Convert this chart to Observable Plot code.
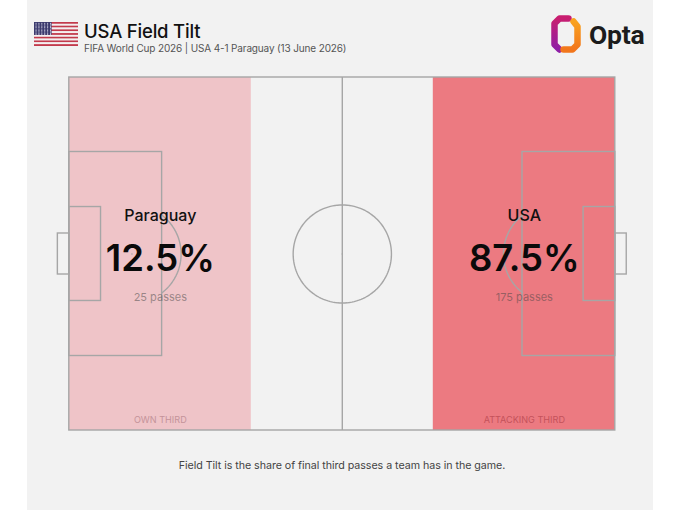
<!DOCTYPE html>
<html><head><meta charset="utf-8">
<script src="https://cdn.jsdelivr.net/npm/d3@7"></script>
<script src="https://cdn.jsdelivr.net/npm/@observablehq/plot@0.6"></script>
<style>
html,body{margin:0;padding:0;background:#fff;width:680px;height:510px;overflow:hidden}
#panel{position:absolute;left:27px;top:0;width:626px;height:510px;background:#f2f2f2}
.t{position:absolute;white-space:nowrap;font-family:Inter,Roboto,sans-serif}
#title{left:84px;top:20px;font-size:18.5px;font-weight:500;color:#111;line-height:22px;letter-spacing:-.2px}
#sub{left:84px;top:41px;font-size:10px;color:#555;line-height:14px;letter-spacing:-.14px}
#cap{left:27px;width:630px;text-align:center;top:459px;font-size:10.7px;color:#444;line-height:14px;letter-spacing:-.05px}
#opta{left:589px;top:19px;font-size:26.5px;font-weight:700;color:#1c1c1c;line-height:32px;font-family:Roboto,sans-serif;letter-spacing:-.2px}
svg{position:absolute;overflow:visible;background:transparent}
</style></head><body>
<div id="panel"></div>
<div id="root"></div>
<div class="t" id="title"></div><div class="t" id="sub"></div><div class="t" id="cap"></div><div class="t" id="opta"></div>
<script>
const chartTitle="USA Field Tilt";
const chartSubtitle="FIFA World Cup 2026 | USA 4-1 Paraguay (13 June 2026)";
const chartCaption="Field Tilt is the share of final third passes a team has in the game.";
const brand="Opta";
const teams=["Paraguay","USA"];
const shares=["12.5%","87.5%"];
const passes=["25 passes","175 passes"];
const zoneNames=["OWN THIRD","ATTACKING THIRD"];
const zoneStart=[0,70];
const zoneEnd=[35,105];
const zoneFill=["#efc4c8","#ec7a81"];
const zoneInk=["#c4939a","#c4525b"];
const L=105,W=68,mid=W/2;
const boxDepth=17.85,boxHalf=19.65,sixDepth=6.1,sixHalf=9.05,goalDepth=2.2,goalHalf=3.95,spot=12.05,radius=9.45;
const idx=[0,1];
const cx=i=>(zoneStart[i]+zoneEnd[i])/2;
const outlines=[
 {x1:0,x2:L,y1:0,y2:W},
 {x1:0,x2:boxDepth,y1:mid-boxHalf,y2:mid+boxHalf},
 {x1:L-boxDepth,x2:L,y1:mid-boxHalf,y2:mid+boxHalf},
 {x1:0,x2:sixDepth,y1:mid-sixHalf,y2:mid+sixHalf},
 {x1:L-sixDepth,x2:L,y1:mid-sixHalf,y2:mid+sixHalf},
 {x1:-goalDepth,x2:0,y1:mid-goalHalf,y2:mid+goalHalf},
 {x1:L,x2:L+goalDepth,y1:mid-goalHalf,y2:mid+goalHalf}
];
const a0=Math.acos((boxDepth-spot)/radius);
const arcAngles=d3.range(-a0,a0+0.001,a0/24);
const circleAngles=d3.range(0,Math.PI*2+0.01,Math.PI/64);
const ink="#a6a6a6";
const sw=1.4;
const pitch=Plot.plot({
 width:680,height:510,margin:0,
 style:{background:"transparent"},
 x:{domain:[0,L],range:[68.8,614.8],axis:null},
 y:{domain:[0,W],range:[430,77],axis:null},
 marks:[
  Plot.rectY(idx,{x1:i=>zoneStart[i],x2:i=>zoneEnd[i],y1:0,y2:W,fill:i=>zoneFill[i]}),
  Plot.rect(outlines,{x1:"x1",x2:"x2",y1:"y1",y2:"y2",fill:"none",stroke:ink,strokeWidth:sw}),
  Plot.ruleX([L/2],{y1:0,y2:W,stroke:ink,strokeWidth:sw}),
  Plot.line(circleAngles,{x:a=>L/2+radius*Math.cos(a),y:a=>mid+radius*Math.sin(a),stroke:ink,strokeWidth:sw}),
  Plot.dot([L/2],{x:d=>d,y:mid,r:.8,fill:ink}),
  Plot.line(arcAngles,{x:a=>spot+radius*Math.cos(a),y:a=>mid+radius*Math.sin(a),stroke:ink,strokeWidth:sw}),
  Plot.line(arcAngles,{x:a=>L-spot-radius*Math.cos(a),y:a=>mid+radius*Math.sin(a),stroke:ink,strokeWidth:sw}),
  Plot.dot([spot,L-spot],{x:d=>d,y:mid,r:.8,fill:ink}),
  Plot.text(idx,{x:cx,y:mid,dy:-38,text:i=>teams[i],fontSize:16,fontWeight:500,fill:"#111",fontFamily:"Inter"}),
  Plot.text(idx,{x:cx,y:mid,dy:5,text:i=>shares[i],fontSize:36.5,fontWeight:600,fill:"#0a0a0a",fontFamily:"Inter"}),
  Plot.text(idx,{x:cx,y:mid,dy:43,text:i=>passes[i],fontSize:11,fill:"#444",fillOpacity:.5,fontFamily:"Inter"}),
  Plot.text(idx,{x:cx,y:2,text:i=>zoneNames[i],fontSize:9.1,fill:i=>zoneInk[i],fontFamily:"Inter"})
 ]
});
document.getElementById("root").append(pitch);

// Flag
const stripes=d3.range(13);
const stars=d3.cross(d3.range(9),d3.range(6)).map(([r,c])=>({r,c}));
const flag=Plot.plot({
 width:44,height:24,margin:0,
 style:{background:"transparent"},
 x:{domain:[0,1],range:[0,44],axis:null},
 y:{domain:[0,13],range:[0,24],axis:null},
 marks:[
  Plot.rect(stripes,{x1:0,x2:1,y1:d=>d,y2:d=>d+1,fill:d=>d%2?"#f4eef0":"#c23a4c"}),
  Plot.rect([0],{x1:0,x2:.4,y1:0,y2:7,fill:"#3c3b6e"}),
  Plot.dot(stars,{x:d=>.035+d.c*.066,y:d=>.45+d.r*.76,r:.55,fill:"#d9d9ea"})
 ]
});
flag.style.left="34px";flag.style.top="22px";
document.getElementById("root").append(flag);

// Logo brackets
const leftBracket=[[18,3],[9,3],[4,8],[4,29],[9,34]];
const rightBracket=[[13,34],[22,34],[27,29],[27,11],[23,6]];
const gradients=()=>{
 const ns="http://www.w3.org/2000/svg";
 const defs=document.createElementNS(ns,"defs");
 defs.innerHTML='<linearGradient id="optaL" x1="0" y1="0" x2="0" y2="1"><stop offset="0" stop-color="#c81e70"/><stop offset="1" stop-color="#8e1fa6"/></linearGradient>'+
 '<linearGradient id="optaR" x1="0" y1="0" x2="0" y2="1"><stop offset="0" stop-color="#f9a21f"/><stop offset="1" stop-color="#f2761c"/></linearGradient>';
 return defs;
};
const logo=Plot.plot({
 width:32,height:38,margin:0,
 style:{background:"transparent"},
 x:{domain:[0,32],range:[0,32],axis:null},
 y:{domain:[0,38],range:[0,38],axis:null},
 marks:[
  gradients,
  Plot.line(leftBracket,{x:"0",y:"1",stroke:"url(#optaL)",strokeWidth:6.5,curve:"linear",strokeLinecap:"round",strokeLinejoin:"round"}),
  Plot.line(rightBracket,{x:"0",y:"1",stroke:"url(#optaR)",strokeWidth:6.5,curve:"linear",strokeLinecap:"round",strokeLinejoin:"round"})
 ]
});
logo.style.left="550px";logo.style.top="15px";
document.getElementById("root").append(logo);

document.getElementById("title").textContent=chartTitle;
document.getElementById("sub").textContent=chartSubtitle;
document.getElementById("cap").textContent=chartCaption;
document.getElementById("opta").textContent=brand;
</script>
</body></html>
